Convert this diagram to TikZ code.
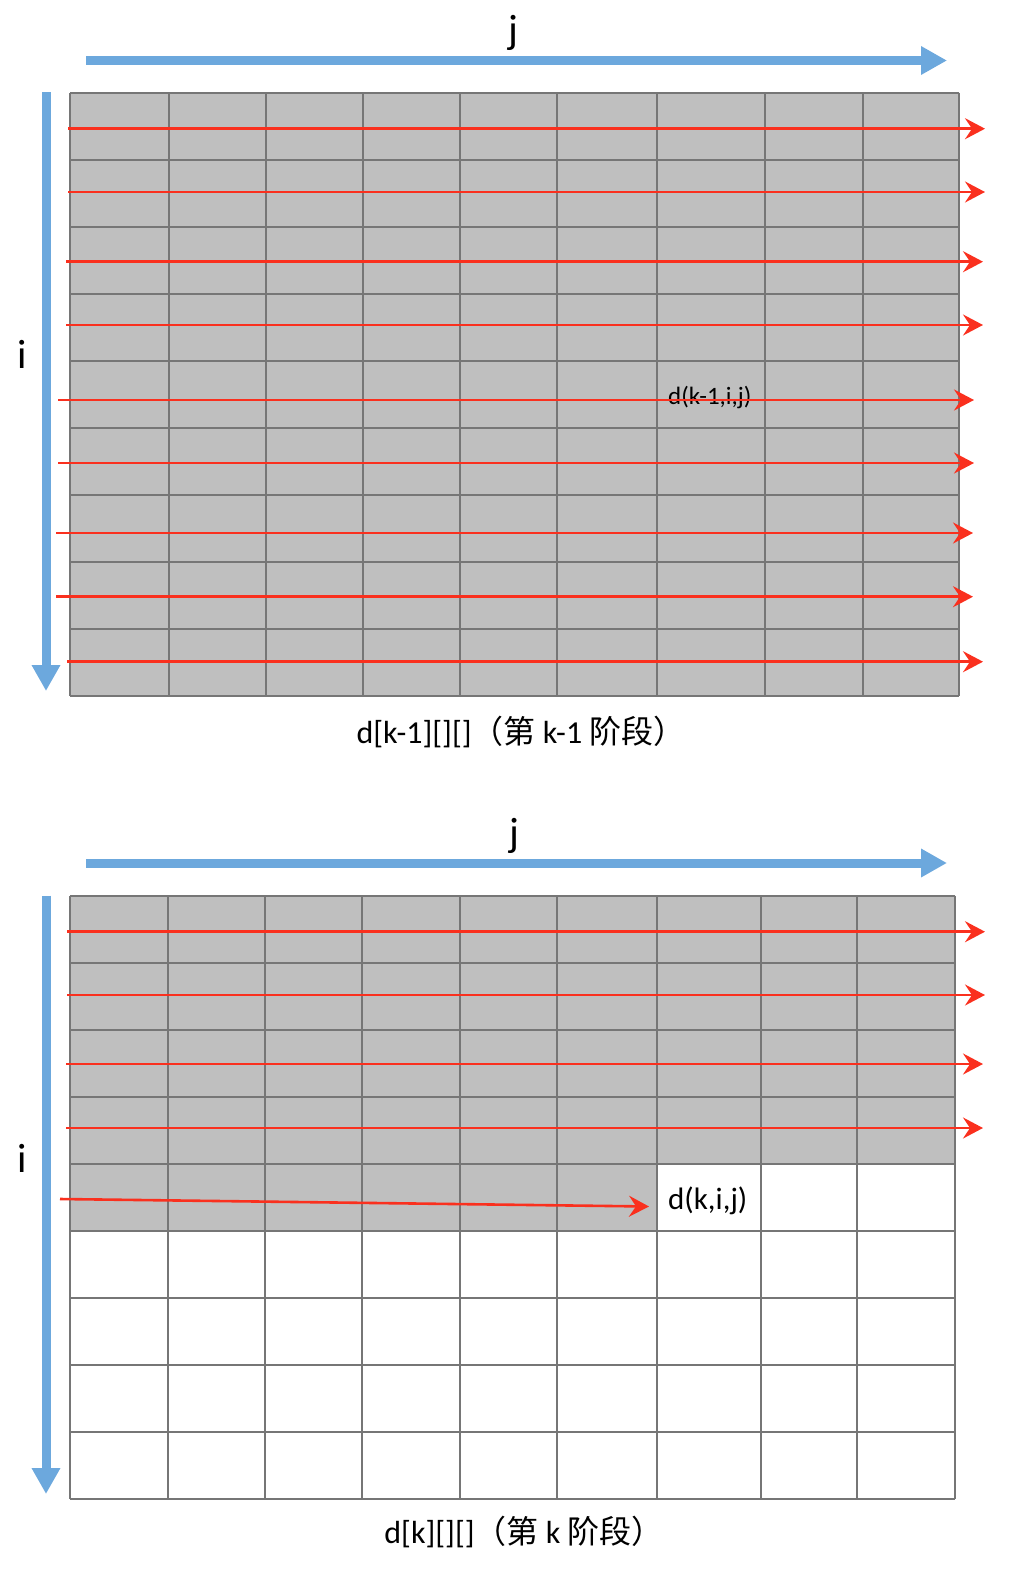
\documentclass[tikz,border=0pt]{standalone}
\usepackage{fontspec}
\setmainfont{Carlito}
\newfontfamily\cjk{Noto Sans CJK SC}
\usetikzlibrary{arrows.meta}
\definecolor{cellgray}{RGB}{191,191,191}
\definecolor{gridline}{RGB}{118,118,118}
\definecolor{axisblue}{RGB}{108,168,221}
\definecolor{scanred}{RGB}{250,48,30}
\begin{document}
\begin{tikzpicture}[x=1pt,y=-1pt,
  axis/.style={axisblue, line width=9pt, -{Triangle[length=26pt,width=27pt]}},
  scan/.style={scanred, line width=2.6pt, -{Stealth[length=20pt,width=21pt,inset=7pt]}},
  gridln/.style={gridline, line width=2pt},
  axlabel/.style={font=\fontsize{41}{48}\selectfont, anchor=base, inner sep=0pt},
  caption/.style={font=\fontsize{32}{38}\selectfont, anchor=base, inner sep=0pt},
  celltext/.style={anchor=base west, inner sep=0pt}]
\useasboundingbox (0,0) rectangle (1032,1574);

% ---------- top grid (stage k-1) ----------
\fill[cellgray] (70,92.7) rectangle (959,695.7);
\foreach \x in {70,168.7,265.7,363,460,557,657,765,863,959}
  \draw[gridln] (\x,92.7) -- (\x,695.7);
\foreach \k in {0,...,9}
  \draw[gridln] (70,{92.7+67*\k}) -- (959,{92.7+67*\k});

\node[celltext, font=\fontsize{25}{30}\selectfont] (dkm) at (668,404) {d(k-1,i,j)};

% red scan lines, top
\foreach \n/\y/\a/\b in {1/128.7/68/985, 2/192/68/985, 3/261.7/66/983, 4/325/66/983,
                        5/400/58/974, 6/463/58/974, 7/533/56/973, 8/596.7/56/973, 9/661.7/67/983}{
  \coordinate (ts\n) at (\a,\y);
  \coordinate (te\n) at (\b,\y);
  \draw[scan] (ts\n) -- (te\n);
}

% axes, top
\coordinate (tj0) at (86,60.5);
\coordinate (tj1) at (947,60.5);
\draw[axis] (tj0) -- (tj1);
\coordinate (ti0) at (46,92);
\coordinate (ti1) at (46,691);
\draw[axis] (ti0) -- (ti1);
\node[axlabel] (tj) at (513,43) {j};
\node[axlabel] (ti) at (22,368) {i};
\node[caption] (tcap) at (521,743) {d[k-1][][]{\cjk （第} k-1 {\cjk 阶段）}};

% ---------- bottom grid (stage k) ----------
\fill[cellgray] (70,895.7) rectangle (657,1231);
\fill[cellgray] (657,895.7) rectangle (955,1164);
\foreach \x in {70,168,265,362,460,557,657,761,857,955}
  \draw[gridln] (\x,895.7) -- (\x,1499.3);
\foreach \k in {0,...,9}
  \draw[gridln] (70,{895.7+67.07*\k}) -- (955,{895.7+67.07*\k});

\node[celltext, font=\fontsize{31}{36}\selectfont] (dk) at (668,1209) {d(k,i,j)};

% red scan lines, bottom
\foreach \n/\y/\a/\b in {1/931.7/67/985, 2/995/67/985, 3/1064/66/983, 4/1128/66/983}{
  \coordinate (bs\n) at (\a,\y);
  \coordinate (be\n) at (\b,\y);
  \draw[scan] (bs\n) -- (be\n);
}
\coordinate (bs5) at (60,1199);
\coordinate (be5) at (649,1206.5);
\draw[scan] (bs5) -- (be5);

% axes, bottom
\coordinate (bj0) at (86,863);
\coordinate (bj1) at (947,863);
\draw[axis] (bj0) -- (bj1);
\coordinate (bi0) at (46,895.7);
\coordinate (bi1) at (46,1494);
\draw[axis] (bi0) -- (bi1);
\node[axlabel] (bj) at (514,846) {j};
\node[axlabel] (bi) at (22,1172) {i};
\node[caption] (bcap) at (524,1543) {d[k][][]{\cjk （第} k {\cjk 阶段）}};
\end{tikzpicture}
\end{document}
